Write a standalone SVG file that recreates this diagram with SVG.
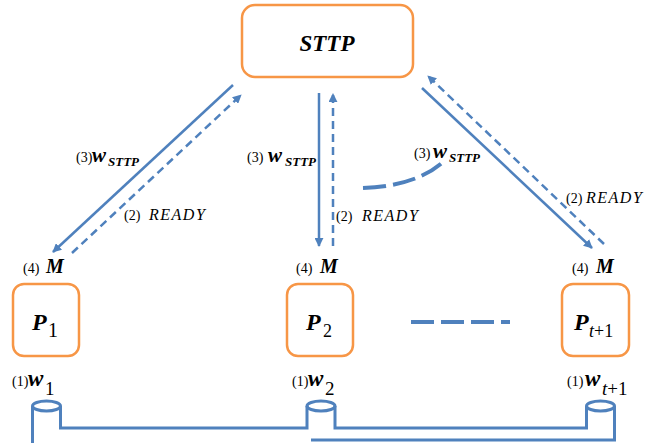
<svg xmlns="http://www.w3.org/2000/svg" width="648" height="443" viewBox="0 0 648 443" font-family="'Liberation Serif', 'Times New Roman', serif">
  <defs>
    <marker id="arrow" viewBox="0 0 10 10" refX="9" refY="5" markerWidth="9" markerHeight="9" markerUnits="userSpaceOnUse" orient="auto">
      <path d="M0,0 L10,5 L0,10 Z" fill="#4f81bd"/>
    </marker>
    <style>
      .box { fill: #ffffff; stroke: #f79646; stroke-width: 2.5; }
      .solid { fill: none; stroke: #4f81bd; stroke-width: 2.5; }
      .dash { fill: none; stroke: #4f81bd; stroke-width: 2.5; stroke-dasharray: 8 5; }
      .pipe { fill: none; stroke: #4f81bd; stroke-width: 3; }
      .longdash { fill: none; stroke: #4f81bd; stroke-width: 4; stroke-dasharray: 23 7; }
      text { fill: #000000; }
      .num { font-size: 14px; }
      .bi { font-weight: bold; font-style: italic; }
      .it { font-style: italic; }
      .rdy { font-size: 16px; font-style: italic; letter-spacing: 1.5px; }
    </style>
  </defs>

  <rect width="648" height="443" fill="#ffffff"/>

  <!-- server node -->
  <g id="sttp">
    <rect class="box" x="242" y="5" width="171" height="72" rx="13"/>
    <text class="bi" x="327" y="51" font-size="23" text-anchor="middle">STTP</text>
  </g>

  <!-- participant nodes -->
  <g id="p1">
    <rect class="box" x="13" y="284" width="66" height="72" rx="11"/>
    <text class="bi" x="32" y="330" font-size="24">P</text>
    <text x="48" y="337" font-size="20">1</text>
  </g>
  <g id="p2">
    <rect class="box" x="287" y="284" width="66" height="72" rx="11"/>
    <text class="bi" x="306" y="330" font-size="24">P</text>
    <text x="323" y="337" font-size="18">2</text>
  </g>
  <g id="pt1">
    <rect class="box" x="562" y="284" width="67" height="72" rx="11"/>
    <text class="bi" x="574" y="330" font-size="24">P</text>
    <text x="589" y="337" font-size="18"><tspan class="it">t</tspan>+1</text>
  </g>

  <!-- message connectors -->
  <g id="connectors">
    <line class="solid" x1="233" y1="85" x2="53" y2="252" marker-end="url(#arrow)"/>
    <line class="dash" x1="72" y1="253" x2="241" y2="95" marker-end="url(#arrow)"/>
    <line class="solid" x1="319" y1="93" x2="319" y2="246" marker-end="url(#arrow)"/>
    <line class="dash" x1="333" y1="246" x2="333" y2="94" marker-end="url(#arrow)"/>
    <line class="solid" x1="422" y1="88" x2="592" y2="248" marker-end="url(#arrow)"/>
    <line class="dash" x1="604" y1="244" x2="428" y2="76" marker-end="url(#arrow)"/>
    <path class="longdash" d="M363,188 Q416,186 443,162"/>
    <line class="longdash" x1="411" y1="322" x2="510" y2="322" stroke-dasharray="23 8"/>
  </g>

  <!-- shared pipe with wells -->
  <g id="pipes">
    <ellipse class="pipe" cx="46.5" cy="406" rx="14" ry="5"/>
    <ellipse class="pipe" cx="321" cy="406" rx="14" ry="5"/>
    <ellipse class="pipe" cx="600.5" cy="406" rx="14" ry="5"/>
    <path class="pipe" d="M32.5,406 V443"/>
    <path class="pipe" d="M60.5,406 V428 H307 V406"/>
    <path class="pipe" d="M335,406 V428 H586.5 V406"/>
    <path class="pipe" d="M614.5,406 V440 H311"/>
  </g>

  <!-- step labels -->
  <g id="labels">
    <text class="num" x="76" y="162">(3)</text>
    <text class="bi" x="92" y="162" font-size="21">w</text>
    <text class="bi" x="108" y="166" font-size="13">STTP</text>
    <text class="num" x="124" y="220">(2)</text>
    <text class="rdy" x="149" y="220">READY</text>

    <text class="num" x="247" y="162">(3)</text>
    <text class="bi" x="268" y="162" font-size="21">w</text>
    <text class="bi" x="285" y="166" font-size="13">STTP</text>
    <text class="num" x="336" y="221">(2)</text>
    <text class="rdy" x="362" y="221">READY</text>

    <text class="num" x="414" y="158">(3)</text>
    <text class="bi" x="433" y="158" font-size="21">w</text>
    <text class="bi" x="449" y="162" font-size="13">STTP</text>
    <text class="num" x="566" y="203">(2)</text>
    <text class="rdy" x="586" y="203">READY</text>

    <text class="num" x="23" y="273">(4)</text>
    <text class="bi" x="46" y="273" font-size="20">M</text>
    <text class="num" x="296" y="273">(4)</text>
    <text class="bi" x="320" y="273" font-size="20">M</text>
    <text class="num" x="572" y="273">(4)</text>
    <text class="bi" x="596" y="273" font-size="20">M</text>

    <text class="num" x="12" y="386">(1)</text>
    <text class="bi" x="28" y="386" font-size="23">w</text>
    <text x="45" y="395" font-size="19">1</text>
    <text class="num" x="292" y="386">(1)</text>
    <text class="bi" x="308" y="386" font-size="23">w</text>
    <text x="325" y="395" font-size="19">2</text>
    <text class="num" x="567" y="386">(1)</text>
    <text class="bi" x="585" y="386" font-size="23">w</text>
    <text x="602" y="395" font-size="19"><tspan class="it">t</tspan>+1</text>
  </g>
</svg>
